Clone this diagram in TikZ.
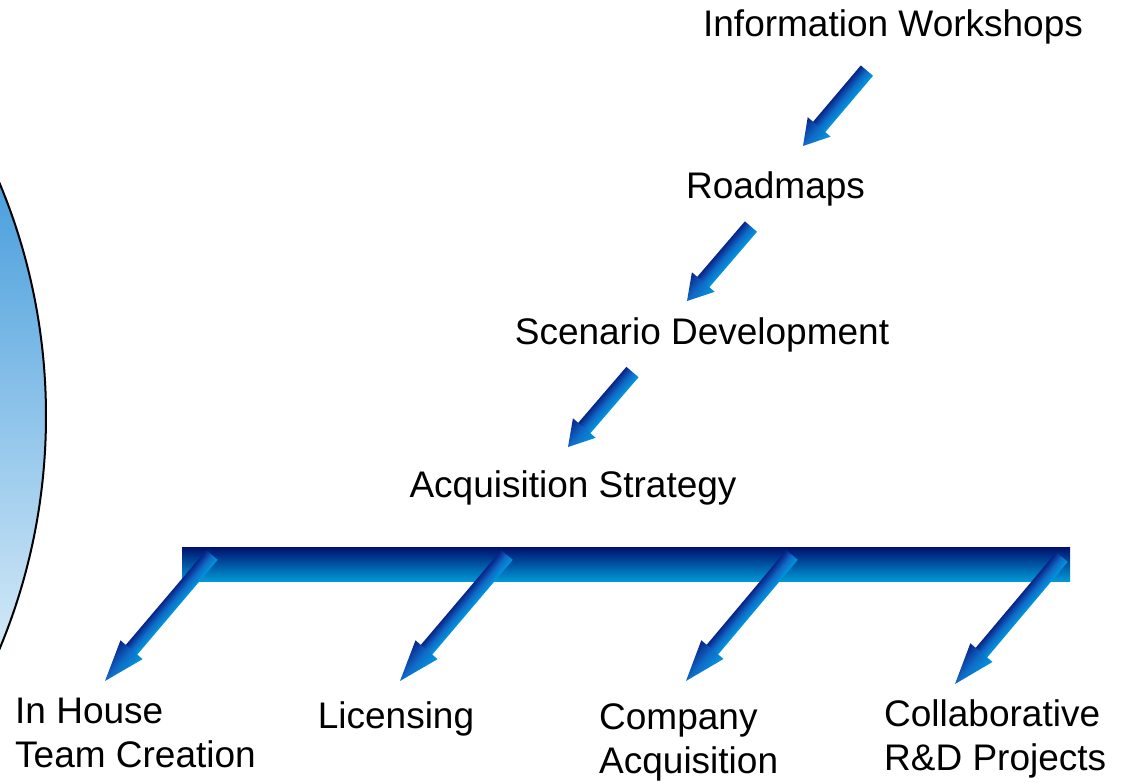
\documentclass[tikz,border=0pt]{standalone}
\usepackage{fontspec}
\setmainfont{Liberation Sans}
\usetikzlibrary{calc}
\definecolor{navy}{RGB}{8,36,136}
\definecolor{midblue}{RGB}{16,106,198}
\definecolor{cyanblue}{RGB}{0,152,222}
\definecolor{bartop}{RGB}{0,16,110}
\definecolor{barbot}{RGB}{0,152,214}
\definecolor{elltop}{RGB}{72,158,220}
\definecolor{ellbot}{RGB}{214,234,248}
\tikzset{
  lbl/.style={inner sep=0pt, font=\fontsize{37}{44}\selectfont, text=black},
  arrowshade/.style={top color=cyanblue, bottom color=navy, middle color=midblue},
}
% block arrow from tail (#1) to tip (#2): head length #3, head half width #4, shaft half width #5
\newcommand\blockarr[5]{%
  \path let \p1=(#1), \p2=(#2), \n1={atan2(\y2-\y1,\x2-\x1)}, \n2={veclen(\x2-\x1,\y2-\y1)} in
    \pgfextra{\pgfmathsetmacro\baang{\n1}\pgfmathsetmacro\balen{\n2}\global\let\baang\baang\global\let\balen\balen};
  \begin{scope}[transform canvas={shift={(#2)},rotate=\baang}]
    \shade[arrowshade] (-#3pt+1pt,#5pt) -- (-\balen pt,#5pt)
      -- (-\balen pt,-#5pt) -- (-#3pt+1pt,-#5pt) -- cycle;
    \shade[arrowshade] (0pt,0pt) -- (-#3pt,#4pt) -- (-#3pt,-#4pt) -- cycle;
  \end{scope}}
\begin{document}
\begin{tikzpicture}[x=1pt,y=-1pt]
\useasboundingbox (0,0) rectangle (1125,783);
% left circle
\begin{scope}
  \clip (-559,416) circle [radius=605pt];
  \shade[top color=elltop, bottom color=ellbot] (-100,175) rectangle (60,660);
\end{scope}
\draw[line width=2pt] (-559,416) circle [radius=605pt];
% labels
\node[lbl, anchor=base] (iw) at (893,37) {Information Workshops};
\node[lbl, anchor=base] (rm) at (775.5,199) {Roadmaps};
\node[lbl, anchor=base] (sd) at (702,345) {Scenario Development};
\node[lbl, anchor=base] (as) at (573,497) {Acquisition Strategy};
\node[lbl, anchor=base west, align=left] (ih) at (15,767) {In House\\Team Creation};
\node[lbl, anchor=base] (li) at (396,728) {Licensing};
\node[lbl, anchor=base west, align=left] (ca) at (599,773) {Company\\Acquisition};
\node[lbl, anchor=base west, align=left] (cr) at (884,770) {Collaborative\\R\&D Projects};
% bar
\shade[top color=bartop, bottom color=barbot] (182,547) rectangle (1070,581);
\node[inner sep=0pt, minimum size=0pt] (bar) at (626,564) {};
% arrow coordinates
\coordinate (a1t) at (867,70.5);  \coordinate (a1h) at (803,146);
\coordinate (a2t) at (751,226.5); \coordinate (a2h) at (687,301);
\coordinate (a3t) at (632.5,372); \coordinate (a3h) at (568,447);
\coordinate (b1t) at (212,555);   \coordinate (b1h) at (105,681);
\coordinate (b2t) at (507,555);   \coordinate (b2h) at (400,681);
\coordinate (b3t) at (792,555);   \coordinate (b3h) at (686,681);
\coordinate (b4t) at (1062,557);  \coordinate (b4h) at (955,684);
\blockarr{a1t}{a1h}{25}{15}{8}
\blockarr{a2t}{a2h}{25}{15}{8}
\blockarr{a3t}{a3h}{25}{15}{8}
\blockarr{b1t}{b1h}{41}{14.5}{7.5}
\blockarr{b2t}{b2h}{41}{14.5}{7.5}
\blockarr{b3t}{b3h}{41}{14.5}{7.5}
\blockarr{b4t}{b4h}{41}{14.5}{7.5}
\end{tikzpicture}
\end{document}
